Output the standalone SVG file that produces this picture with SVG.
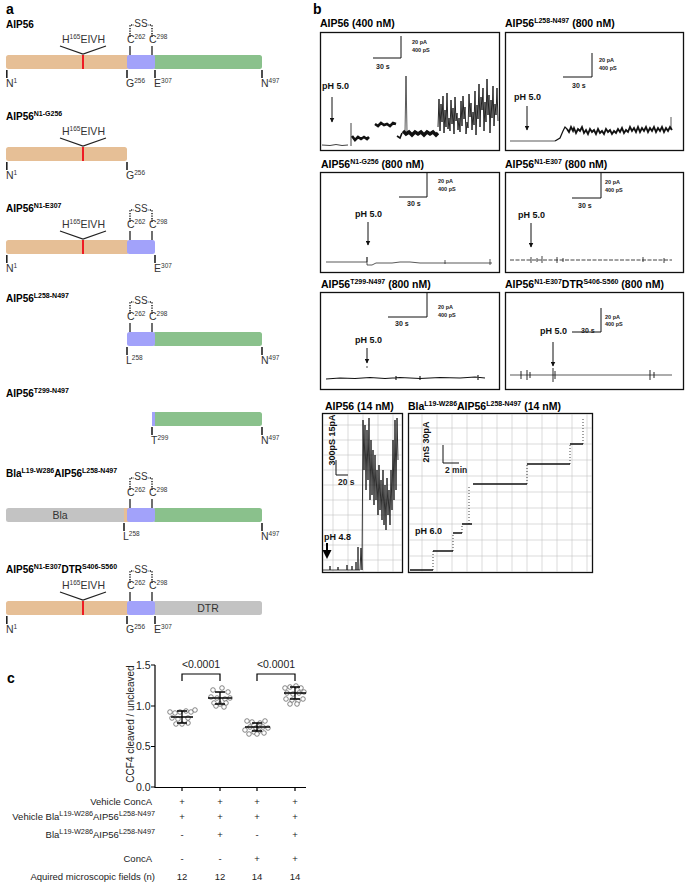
<svg xmlns="http://www.w3.org/2000/svg" width="685" height="889" viewBox="0 0 685 889">
<style>
text{font-family:"Liberation Sans",Arial,sans-serif}
.pl{font-size:14px;font-weight:bold;fill:#000}
.tt{font-size:10px;font-weight:bold;fill:#000}
.ts{font-size:7px}
.lb{font-size:10.5px;fill:#333}
.ls{font-size:6.5px}
.ss{font-size:10px;fill:#333}
.or{fill:#E6BF96}
.bl{fill:#A2A2FA}
.gr{fill:#8AC18C}
.gy{fill:#C3C3C3}
.tk{stroke:#222;stroke-width:1.6;fill:none}
.vl{stroke:#222;stroke-width:1.3;fill:none}
.dt{stroke:#222;stroke-width:1.5;stroke-dasharray:1.3 1.3;fill:none}
.rd{stroke:#EE1C24;stroke-width:2;fill:none}
.box{fill:#fff;stroke:#111;stroke-width:1.3}
.bt{font-size:10.5px;font-weight:bold;fill:#000}
.bts{font-size:7px}
.sc{stroke:#111;stroke-width:1;fill:none}
.scl{font-size:5.5px;font-weight:bold;fill:#222}
.s30{font-size:7px;font-weight:bold;fill:#222}
.ph{font-size:9px;font-weight:bold;fill:#111}
.tr{stroke:#111;fill:none}
.grid{stroke:#c4c4c4;stroke-width:0.6;fill:none}
.ax{stroke:#000;stroke-width:1.2;fill:none}
.tl{font-size:10.5px;fill:#222}
.pt{fill:#fff;stroke:#555;stroke-width:0.7}
.mb{stroke:#000;stroke-width:1.3;fill:none}
.tab{font-size:9.5px;fill:#222}
.tabs{font-size:7.3px}
</style>
<defs>
<marker id="ah" viewBox="0 0 10 10" refX="9" refY="5" markerWidth="5" markerHeight="5" orient="auto"><path d="M0,0 L10,5 L0,10 z" fill="#111"/></marker>
<g id="hlab">
<text class="lb" x="62" y="43">H<tspan class="ls" dy="-4">165</tspan><tspan dy="4">EIVH</tspan></text>
<path class="vl" d="M60,46 L83,54 L106,46"/>
<path class="rd" d="M83,55 V69"/>
</g>
<g id="clab">
<text class="lb" x="127" y="43">C<tspan class="ls" dy="-4">262</tspan></text>
<text class="lb" x="149" y="43">C<tspan class="ls" dy="-4">298</tspan></text>
<path class="vl" d="M130,46 V55 M152,46 V55"/>
<text class="ss" x="141" y="27" text-anchor="middle">SS</text>
<path class="dt" d="M130,37 V25 H134 M152,37 V25 H148"/>
</g>
</defs>
<rect width="685" height="889" fill="#fff"/>

<!-- Panel a -->
<text class="pl" x="6" y="14">a</text>
<g id="c1">
<text class="tt" x="6" y="28">AIP56</text>
<rect class="or" x="6" y="55" width="123" height="14" rx="2.5"/>
<rect class="gr" x="153" y="55" width="109" height="14" rx="2.5"/>
<rect class="bl" x="127" y="55" width="28" height="14" rx="2"/>
<use href="#hlab"/><use href="#clab"/>
<path class="tk" d="M6.8,70 V78 M127,70 V78 M155,70 V78 M262,70 V78"/>
<text class="lb" x="6" y="87">N<tspan class="ls" dy="-4">1</tspan></text>
<text class="lb" x="126" y="87">G<tspan class="ls" dy="-4">256</tspan></text>
<text class="lb" x="154" y="87">E<tspan class="ls" dy="-4">307</tspan></text>
<text class="lb" x="261" y="87">N<tspan class="ls" dy="-4">497</tspan></text>
</g>
<g id="c2" transform="translate(0,92)">
<text class="tt" x="6" y="28">AIP56<tspan class="ts" dy="-4">N1-G256</tspan></text>
<rect class="or" x="6" y="55" width="121" height="14" rx="2.5"/>
<use href="#hlab"/>
<path class="tk" d="M6.8,70 V78 M127,70 V78"/>
<text class="lb" x="6" y="87">N<tspan class="ls" dy="-4">1</tspan></text>
<text class="lb" x="126" y="87">G<tspan class="ls" dy="-4">256</tspan></text>
</g>
<g id="c3" transform="translate(0,185)">
<text class="tt" x="6" y="27">AIP56<tspan class="ts" dy="-4">N1-E307</tspan></text>
<rect class="or" x="6" y="55" width="123" height="14" rx="2.5"/>
<rect class="bl" x="127" y="55" width="28" height="14" rx="2.5"/>
<use href="#hlab"/><use href="#clab"/>
<path class="tk" d="M6.8,70 V78 M155,70 V78"/>
<text class="lb" x="6" y="87">N<tspan class="ls" dy="-4">1</tspan></text>
<text class="lb" x="154" y="87">E<tspan class="ls" dy="-4">307</tspan></text>
</g>
<g id="c4" transform="translate(0,277)">
<text class="tt" x="6" y="25">AIP56<tspan class="ts" dy="-4">L258-N497</tspan></text>
<rect class="gr" x="153" y="55" width="109" height="14" rx="2.5"/>
<rect class="bl" x="127" y="55" width="28" height="14" rx="2.5"/>
<use href="#clab"/>
<path class="tk" d="M127,70 V78 M262,70 V78"/>
<text class="lb" x="126" y="87">L<tspan class="ls" dy="-4">258</tspan></text>
<text class="lb" x="261" y="87">N<tspan class="ls" dy="-4">497</tspan></text>
</g>
<g id="c5" transform="translate(0,357)">
<text class="tt" x="6" y="40">AIP56<tspan class="ts" dy="-4">T299-N497</tspan></text>
<rect class="gr" x="153" y="55" width="109" height="14" rx="2.5"/>
<rect class="bl" x="152" y="55" width="3" height="14"/>
<path class="tk" d="M152,70 V78 M262,70 V78"/>
<text class="lb" x="151" y="87">T<tspan class="ls" dy="-4">299</tspan></text>
<text class="lb" x="261" y="87">N<tspan class="ls" dy="-4">497</tspan></text>
</g>
<g id="c6" transform="translate(0,453)">
<text class="tt" x="6" y="24">Bla<tspan class="ts" dy="-4">L19-W286</tspan><tspan dy="4">AIP56</tspan><tspan class="ts" dy="-4">L258-N497</tspan></text>
<rect class="gy" x="6" y="55" width="121" height="14" rx="2.5"/>
<rect class="gr" x="153" y="55" width="109" height="14" rx="2.5"/>
<rect class="or" x="124" y="55" width="5" height="14"/>
<rect class="bl" x="127" y="55" width="28" height="14" rx="2.5"/>
<use href="#clab"/>
<text class="lb" x="60" y="66" text-anchor="middle">Bla</text>
<path class="tk" d="M124,70 V78 M262,70 V78"/>
<text class="lb" x="123" y="87">L<tspan class="ls" dy="-4">258</tspan></text>
<text class="lb" x="261" y="87">N<tspan class="ls" dy="-4">497</tspan></text>
</g>
<g id="c7" transform="translate(0,546)">
<text class="tt" x="6" y="27">AIP56<tspan class="ts" dy="-4">N1-E307</tspan><tspan dy="4">DTR</tspan><tspan class="ts" dy="-4">S406-S560</tspan></text>
<rect class="or" x="6" y="55" width="123" height="14" rx="2.5"/>
<rect class="gy" x="153" y="55" width="109" height="14" rx="2.5"/>
<rect class="bl" x="127" y="55" width="28" height="14" rx="2.5"/>
<use href="#hlab"/><use href="#clab"/>
<text class="lb" x="208" y="66" text-anchor="middle">DTR</text>
<path class="tk" d="M6.8,70 V78 M127,70 V78 M155,70 V78"/>
<text class="lb" x="6" y="87">N<tspan class="ls" dy="-4">1</tspan></text>
<text class="lb" x="126" y="87">G<tspan class="ls" dy="-4">256</tspan></text>
<text class="lb" x="154" y="87">E<tspan class="ls" dy="-4">307</tspan></text>
</g>

<!-- Panel b -->
<text class="pl" x="313" y="14">b</text>
<g id="b1">
<text class="bt" x="320" y="27">AIP56 (400 nM)</text>
<rect class="box" x="320.5" y="32.5" width="179" height="118"/>
<path class="sc" d="M401,36 V58 H373"/>
<text class="scl" x="412" y="44">20 pA</text>
<text class="scl" x="412" y="52">400 pS</text>
<text class="s30" x="376" y="69">30 s</text>
<text class="ph" x="322" y="89">pH 5.0</text>
<path class="sc" d="M332,97 V122" marker-end="url(#ah)"/>
<path class="tr" stroke-width="0.8" d="M322,145 L330,145.5 L336,144.5 L342,145.5 L348,145"/>
<path class="tr" stroke-width="0.8" stroke="#444" d="M351,146 V123"/>
<path class="tr" stroke-width="2.6" d="M352,136 L355,140 L358,137 L361,139 L364,137 L367,139 L369,137"/>
<path class="tr" stroke-width="2.6" d="M375,124 L378,126 L381,123 L384,125 L387,124 L390,126 L393,123 L396,124"/>
<path class="tr" stroke-width="1.6" d="M397,136 L400,138 L402,133"/>
<path class="tr" stroke-width="0.7" stroke="#666" d="M405,132 L406,76 L407,132"/>
<path class="tr" stroke-width="3.4" d="M403,131 L406,134 L409,132 L412,135 L415,132 L418,134 L421,132 L424,135 L427,132 L430,134 L433,132 L436,135 L438,133"/>
<polyline class="tr" stroke="#000" stroke-width="0.9" points="438,127 439,99 440,131 441,104 442,122 443,96 444,133 445,110 446,127 447,93 448,129 449,118 450,131 451,100 452,124 453,108 454,134 455,97 456,121 457,113 458,130 459,118 460,132 461,101 462,126 463,96 464,119 465,107 466,134 467,122 468,128 469,94 470,117 471,103 472,130 473,112 474,125 475,91 476,135 477,105 478,119 479,84 480,127 481,97 482,110 483,88 484,131 485,102 486,122 487,79 488,115 489,95 490,133 491,100 492,118 493,86 494,126 495,104 496,115 497,88 498,121"/>
</g>
<g id="b2">
<text class="bt" x="505" y="27">AIP56<tspan class="bts" dy="-4">L258-N497</tspan><tspan dy="4"> (800 nM)</tspan></text>
<rect class="box" x="505.5" y="32.5" width="178" height="118"/>
<path class="sc" d="M592,53 V77 H563"/>
<text class="scl" x="599" y="62">20 pA</text>
<text class="scl" x="599" y="70">400 pS</text>
<text class="s30" x="572" y="88">30 s</text>
<text class="ph" x="514" y="100">pH 5.0</text>
<path class="sc" d="M527,106 V130" marker-end="url(#ah)"/>
<path class="tr" stroke-width="0.7" stroke="#666" d="M510,141 H555"/>
<path class="tr" stroke-width="1.2" d="M555,141 L560,138 L563,131 L565,127 L567,129"/>
<polyline class="tr" stroke-width="1.8" points="567,129 569,132 571,127 573,131 574,128 576,133 578,129 580,131 582,127 584,133 586,130 588,134 590,129 592,132 594,130 596,134 598,129 600,133 602,131 604,134 606,129 608,132 610,130 612,134 614,131 616,133 618,129 620,132 622,128 624,133 626,130 628,132 630,127 632,131 634,128 636,132 638,127 640,132 642,128 644,131 646,127 648,132 650,128 652,131 654,127 656,132 658,128 660,131 662,127 664,132 666,128 668,131 670,127 672,130"/>
<path class="tr" stroke-width="0.7" stroke="#555" d="M671,130 V117"/>
</g>
<g id="b3">
<text class="bt" x="321" y="168">AIP56<tspan class="bts" dy="-4">N1-G256</tspan><tspan dy="4"> (800 nM)</tspan></text>
<rect class="box" x="320.5" y="172.5" width="179" height="100"/>
<path class="sc" d="M427,173 V197 H399"/>
<text class="scl" x="438" y="183">20 pA</text>
<text class="scl" x="438" y="191">400 pS</text>
<text class="s30" x="407" y="206">30 s</text>
<text class="ph" x="355" y="217">pH 5.0</text>
<path class="sc" d="M368,222 V245" marker-end="url(#ah)"/>
<path class="tr" stroke-width="0.7" stroke="#555" d="M326,262 H367 V257 V265 L372,265 L376,263 L383,263 H392 L400,262 H410 L420,263 H492 M445,260 V264 M490,259 V265"/>
</g>
<g id="b4">
<text class="bt" x="505" y="168">AIP56<tspan class="bts" dy="-4">N1-E307</tspan><tspan dy="4"> (800 nM)</tspan></text>
<rect class="box" x="505.5" y="172.5" width="178" height="100"/>
<path class="sc" d="M601,173 V198 H572"/>
<text class="scl" x="605" y="184">20 pA</text>
<text class="scl" x="605" y="192">400 pS</text>
<text class="s30" x="578" y="208">30 s</text>
<text class="ph" x="518" y="218">pH 5.0</text>
<path class="sc" d="M531,223 V247" marker-end="url(#ah)"/>
<path class="tr" stroke-width="0.8" stroke="#333" stroke-dasharray="4 1.5" d="M510,260 H672"/>
<path class="tr" stroke-width="0.8" d="M531,257 V263 M537,258 V262 M542,256 V263 M557,257 V263 M563,258 V262 M643,257 V262 M664,258 V263"/>
</g>
<g id="b5">
<text class="bt" x="321" y="288">AIP56<tspan class="bts" dy="-4">T299-N497</tspan><tspan dy="4"> (800 nM)</tspan></text>
<rect class="box" x="320.5" y="292.5" width="179" height="97"/>
<path class="sc" d="M427,293 V317 H388"/>
<text class="scl" x="438" y="309">20 pA</text>
<text class="scl" x="438" y="317">400 pS</text>
<text class="s30" x="395" y="326">30 s</text>
<text class="ph" x="355" y="343">pH 5.0</text>
<path class="sc" d="M367,348 V363" marker-end="url(#ah)"/>
<circle cx="367" cy="367" r="0.8" fill="#333"/>
<path class="tr" stroke-width="1.1" d="M326,379 L340,378 L355,378.5 L370,377.5 L385,378.5 L400,377.5 L420,378.5 L440,377.5 L460,378 L475,377 L485,378 M396,376 V380 M420,376 V380 M478,375 V380"/>
</g>
<g id="b6">
<text class="bt" x="505" y="288">AIP56<tspan class="bts" dy="-4">N1-E307</tspan><tspan dy="4">DTR</tspan><tspan class="bts" dy="-4">S406-S560</tspan><tspan dy="4"> (800 nM)</tspan></text>
<rect class="box" x="505.5" y="292.5" width="178" height="97"/>
<path class="sc" d="M601,308 V332 H572"/>
<text class="scl" x="605" y="319">20 pA</text>
<text class="scl" x="605" y="326">400 pS</text>
<text class="s30" x="581" y="333">30 s</text>
<text class="ph" x="540" y="334">pH 5.0</text>
<path class="sc" d="M553,342 V366" marker-end="url(#ah)"/>
<path class="tr" stroke-width="0.7" stroke="#444" d="M510,375 H672"/>
<path class="tr" stroke-width="0.9" d="M521,371 V379 M527,370 V380 M530,372 V378 M553,368 V382 M555,371 V379 M650,370 V380 M654,372 V378"/>
</g>
<g id="b7">
<text class="bt" x="325" y="410">AIP56 (14 nM)</text>
<rect class="box" x="322.5" y="413.5" width="80" height="159"/>
<path class="grid" d="M333,414 V572 M348,414 V572 M363,414 V572 M378,414 V572 M393,414 V572 M323,425 H402 M323,440 H402 M323,455 H402 M323,470 H402 M323,485 H402 M323,500 H402 M323,515 H402 M323,530 H402 M323,545 H402 M323,560 H402"/>
<text class="ph" x="335" y="440" text-anchor="middle" transform="rotate(-90 335 440)">300pS 15pA</text>
<path class="sc" stroke-width="1.4" d="M336,460 V475 H348"/>
<text class="s30" x="338" y="485" style="font-size:8.5px">20 s</text>
<text class="ph" x="324" y="540">pH 4.8</text>
<path stroke="#000" stroke-width="2" d="M327,543 V552"/>
<path fill="#000" d="M322.5,550 L331.5,550 L327,559 z"/>
<path class="tr" stroke-width="0.8" d="M322,570 H330 V566 V570 H338 V567 V570 H347 V565 V570 H352 V566 V570 H356 V562 V570 H358 V547 V570 H360"/>
<polyline class="tr" stroke="#000" stroke-width="0.85" points="360,570 361,548 362,570 363,420 364,470 365,425 366,490 367,430 368,480 369,418 370,500 371,440 372,495 373,450 374,505 375,455 376,500 377,470 378,515 379,465 380,510 381,480 382,520 383,470 384,525 385,485 386,530 387,478 388,515 389,490 390,525 391,470 392,510 393,440 394,500 395,420 396,490 397,418 398,460"/>
</g>
<g id="b8">
<text class="bt" x="408" y="410">Bla<tspan class="bts" dy="-4">L19-W286</tspan><tspan dy="4">AIP56</tspan><tspan class="bts" dy="-4">L258-N497</tspan><tspan dy="4"> (14 nM)</tspan></text>
<rect class="box" x="408.5" y="413.5" width="184" height="159"/>
<path class="grid" d="M422,414 V572 M437,414 V572 M452,414 V572 M467,414 V572 M482,414 V572 M497,414 V572 M512,414 V572 M527,414 V572 M542,414 V572 M557,414 V572 M572,414 V572 M587,414 V572 M409,428 H592 M409,444 H592 M409,460 H592 M409,476 H592 M409,492 H592 M409,508 H592 M409,524 H592 M409,540 H592 M409,556 H592"/>
<text class="ph" x="429" y="442" text-anchor="middle" transform="rotate(-90 429 442)">2nS 30pA</text>
<path class="sc" stroke-width="1.4" d="M443,445 V463 H459"/>
<text class="s30" x="445" y="473" style="font-size:8.5px">2 min</text>
<text class="ph" x="415" y="534">pH 6.0</text>
<path class="tr" stroke-width="1.3" d="M410,570 H433 M433,551 H453 M453,533 H462 M462,524 H472 M473,484 H527 M527,464 H570 M570,444 H583"/>
<path class="tr" stroke-width="0.8" stroke="#555" stroke-dasharray="1 2" d="M433,570 V551 M453,551 V533 M462,533 V524 M469,524 V486 M527,484 V464 M570,464 V444 M583,444 V418"/>
</g>

<!-- Panel c -->
<text class="pl" x="7" y="683">c</text>
<g id="chart">
<path class="ax" d="M155,665 V787.5 H306"/>
<path class="ax" d="M151,665 H155 M151,706 H155 M151,746.5 H155 M151,787 H155 M182,787 V791 M220,787 V791 M257,787 V791 M295,787 V791"/>
<text class="tl" x="150.5" y="669" text-anchor="end">1.5</text>
<text class="tl" x="150.5" y="710" text-anchor="end">1.0</text>
<text class="tl" x="150.5" y="750" text-anchor="end">0.5</text>
<text class="tl" x="150.5" y="791" text-anchor="end">0.0</text>
<text class="tl" x="134" y="724" text-anchor="middle" style="font-size:10px" transform="rotate(-90 134 724)">CCF4 cleaved / uncleaved</text>
<path class="ax" stroke-width="1" d="M182,681 V674 H220 V681 M257,681 V674 H295 V681"/>
<text class="tl" x="201" y="668" text-anchor="middle">&lt;0.0001</text>
<text class="tl" x="276" y="668" text-anchor="middle">&lt;0.0001</text>
<g>
<circle class="pt" cx="170" cy="712" r="2.3"/><circle class="pt" cx="175" cy="713" r="2.3"/><circle class="pt" cx="180" cy="712" r="2.3"/><circle class="pt" cx="186" cy="711" r="2.3"/><circle class="pt" cx="191" cy="712" r="2.3"/><circle class="pt" cx="195" cy="710" r="2.3"/><circle class="pt" cx="172" cy="718" r="2.3"/><circle class="pt" cx="178" cy="719" r="2.3"/><circle class="pt" cx="188" cy="718" r="2.3"/><circle class="pt" cx="176" cy="724" r="2.3"/><circle class="pt" cx="182" cy="724" r="2.3"/><circle class="pt" cx="188" cy="723" r="2.3"/>
<circle class="pt" cx="213" cy="690" r="2.3"/><circle class="pt" cx="222" cy="688" r="2.3"/><circle class="pt" cx="228" cy="692" r="2.3"/><circle class="pt" cx="211" cy="697" r="2.3"/><circle class="pt" cx="217" cy="698" r="2.3"/><circle class="pt" cx="225" cy="699" r="2.3"/><circle class="pt" cx="230" cy="698" r="2.3"/><circle class="pt" cx="214" cy="703" r="2.3"/><circle class="pt" cx="220" cy="704" r="2.3"/><circle class="pt" cx="226" cy="703" r="2.3"/><circle class="pt" cx="216" cy="706" r="2.3"/><circle class="pt" cx="224" cy="707" r="2.3"/>
<circle class="pt" cx="247" cy="721" r="2.3"/><circle class="pt" cx="252" cy="722" r="2.3"/><circle class="pt" cx="260" cy="723" r="2.3"/><circle class="pt" cx="265" cy="721" r="2.3"/><circle class="pt" cx="250" cy="727" r="2.3"/><circle class="pt" cx="256" cy="728" r="2.3"/><circle class="pt" cx="263" cy="727" r="2.3"/><circle class="pt" cx="268" cy="728" r="2.3"/><circle class="pt" cx="245" cy="730" r="2.3"/><circle class="pt" cx="254" cy="732" r="2.3"/><circle class="pt" cx="259" cy="731" r="2.3"/><circle class="pt" cx="264" cy="733" r="2.3"/><circle class="pt" cx="249" cy="734" r="2.3"/><circle class="pt" cx="257" cy="734" r="2.3"/>
<circle class="pt" cx="285" cy="688" r="2.3"/><circle class="pt" cx="290" cy="687" r="2.3"/><circle class="pt" cx="296" cy="686" r="2.3"/><circle class="pt" cx="301" cy="688" r="2.3"/><circle class="pt" cx="287" cy="693" r="2.3"/><circle class="pt" cx="293" cy="694" r="2.3"/><circle class="pt" cx="299" cy="693" r="2.3"/><circle class="pt" cx="304" cy="692" r="2.3"/><circle class="pt" cx="286" cy="699" r="2.3"/><circle class="pt" cx="292" cy="700" r="2.3"/><circle class="pt" cx="298" cy="701" r="2.3"/><circle class="pt" cx="303" cy="699" r="2.3"/><circle class="pt" cx="290" cy="704" r="2.3"/><circle class="pt" cx="297" cy="704" r="2.3"/>
</g>
<path class="mb" d="M171,717 H193 M182,711 V723 M177,711 H187 M177,723 H187 M208,698 H232 M220,692 V704 M215,692 H225 M215,704 H225 M245,727 H270 M257,723 V731 M252,723 H262 M252,731 H262 M284,693 H306 M295,687 V699 M290,687 H300 M290,699 H300"/>
</g>
<g id="table">
<text class="tab" x="152" y="805" text-anchor="end">Vehicle ConcA</text>
<text class="tab" x="155" y="820" text-anchor="end">Vehicle Bla<tspan class="tabs" dy="-4">L19-W286</tspan><tspan dy="4">AIP56</tspan><tspan class="tabs" dy="-4">L258-N497</tspan></text>
<text class="tab" x="155" y="838" text-anchor="end">Bla<tspan class="tabs" dy="-4">L19-W286</tspan><tspan dy="4">AIP56</tspan><tspan class="tabs" dy="-4">L258-N497</tspan></text>
<text class="tab" x="152" y="862" text-anchor="end">ConcA</text>
<text class="tab" x="155" y="880" text-anchor="end">Aquired microscopic fields (n)</text>
<g text-anchor="middle">
<text class="tab" x="182" y="805">+</text><text class="tab" x="220" y="805">+</text><text class="tab" x="257" y="805">+</text><text class="tab" x="295" y="805">+</text>
<text class="tab" x="182" y="820">+</text><text class="tab" x="220" y="820">+</text><text class="tab" x="257" y="820">+</text><text class="tab" x="295" y="820">+</text>
<text class="tab" x="182" y="838">-</text><text class="tab" x="220" y="838">+</text><text class="tab" x="257" y="838">-</text><text class="tab" x="295" y="838">+</text>
<text class="tab" x="182" y="862">-</text><text class="tab" x="220" y="862">-</text><text class="tab" x="257" y="862">+</text><text class="tab" x="295" y="862">+</text>
<text class="tab" x="182" y="880">12</text><text class="tab" x="220" y="880">12</text><text class="tab" x="257" y="880">14</text><text class="tab" x="295" y="880">14</text>
</g>
</g>
</svg>
